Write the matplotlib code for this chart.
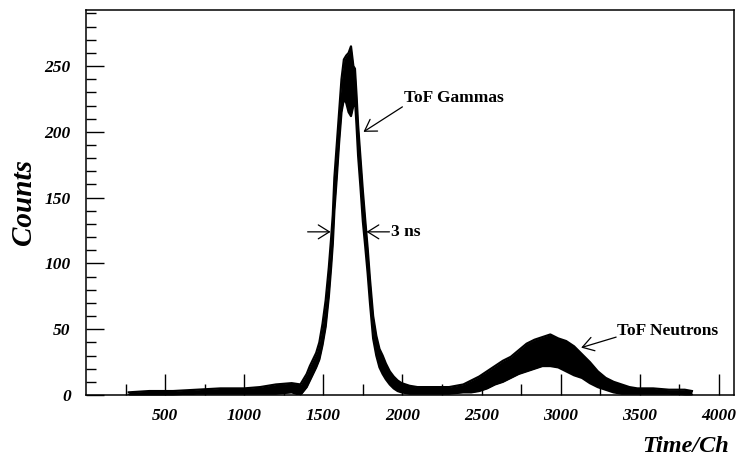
import matplotlib
matplotlib.use("Agg")
import matplotlib.pyplot as plt
from matplotlib.ticker import MultipleLocator, FixedLocator

channel = [270, 400, 550, 700, 850, 1000, 1100, 1200, 1300, 1355, 1375, 1395, 1415,
           1435, 1455, 1475, 1495, 1515, 1535, 1550, 1560, 1570, 1585, 1600, 1615,
           1630, 1645, 1660, 1675, 1690, 1700, 1710, 1720, 1735, 1750, 1765, 1780,
           1795, 1815, 1835, 1855, 1875, 1895, 1920, 1945, 1970, 1995, 2045, 2095,
           2195, 2295, 2385, 2435, 2485, 2535, 2585, 2635, 2685, 2735, 2785, 2835,
           2885, 2935, 2985, 3035, 3085, 3135, 3185, 3235, 3285, 3335, 3385, 3435,
           3485, 3585, 3685, 3785, 3830]
counts_lo = [0, 0, 0, 1, 1, 1, 1, 1, 2, 0, 3, 6, 11,
             16, 21, 27, 38, 52, 75, 98, 115, 140, 165, 192, 215,
             225, 222, 215, 212, 220, 225, 205, 182, 158, 132, 113, 93,
             70, 43, 30, 21, 16, 12, 8, 5, 3, 2, 1, 1,
             1, 1, 2, 2, 3, 5, 8, 10, 13, 16, 18, 20,
             22, 22, 21, 18, 15, 13, 9, 6, 4, 2, 1, 1,
             1, 1, 1, 0, 0]
counts_hi = [2, 3, 3, 4, 5, 5, 6, 8, 9, 8, 12, 16, 22,
             27, 32, 40, 54, 72, 97, 120, 137, 165, 190, 215, 240,
             255, 258, 260, 265, 250, 248, 228, 205, 180, 155, 133, 112,
             88, 60, 45, 35, 30, 24, 18, 14, 11, 9, 7, 6,
             6, 6, 8, 11, 14, 18, 22, 26, 29, 34, 39, 42,
             44, 46, 43, 41, 37, 31, 25, 18, 13, 10, 8, 6,
             5, 5, 4, 4, 3]

serif = "Liberation Serif"

fig = plt.figure(figsize=(7.37, 4.63), dpi=100)
ax = fig.add_axes([86 / 737, 68 / 463, 648 / 737, 385.5 / 463])

ax.fill_between(channel, counts_lo, counts_hi, color="black", lw=0)
ax.plot(channel, counts_lo, color="black", lw=1.6)
ax.plot(channel, counts_hi, color="black", lw=1.6)

ax.set_xlim(0, 4096)
ax.set_ylim(0, 293)

ax.xaxis.set_major_locator(FixedLocator([500, 1000, 1500, 2000, 2500, 3000, 3500, 4000]))
ax.xaxis.set_minor_locator(FixedLocator([250, 750, 1250, 1750, 2250, 2750, 3250, 3750]))
ax.yaxis.set_major_locator(MultipleLocator(50))
ax.yaxis.set_minor_locator(MultipleLocator(10))
ax.tick_params(axis="x", which="major", direction="in", length=15, width=1, pad=9)
ax.tick_params(axis="x", which="minor", direction="in", length=8, width=1)
ax.tick_params(axis="y", which="major", direction="in", length=13, width=1, pad=11)
ax.tick_params(axis="y", which="minor", direction="in", length=7, width=1)
for lab in ax.get_xticklabels() + ax.get_yticklabels():
    lab.set_family(serif)
    lab.set_weight("bold")
    lab.set_style("italic")
    lab.set_fontsize(12.5)
for sp in ax.spines.values():
    sp.set_linewidth(1.1)

fig.text(24 / 737, 1 - 202 / 463, "Counts", rotation=90, ha="center", va="center",
         family=serif, weight="bold", style="italic", fontsize=21)
fig.text(729 / 737, 1 - 446 / 463, "Time/Ch", ha="right", va="center",
         family=serif, weight="bold", style="italic", fontsize=17.5)

arrow = dict(arrowstyle="->,head_length=0.8,head_width=0.5", color="black",
             lw=0.9, mutation_scale=10, shrinkA=0, shrinkB=0)
txt = dict(family=serif, weight="bold", fontsize=12.5, va="center", ha="left")

ax.annotate("", xy=(1754, 200), xytext=(2000, 219), arrowprops=arrow)
ax.text(2013, 226, "ToF Gammas", **txt)

ax.annotate("", xy=(1546, 124), xytext=(1401, 124), arrowprops=arrow)
ax.annotate("", xy=(1773, 124), xytext=(1918, 124), arrowprops=arrow)
ax.text(1925, 124, "3 ns", **txt)

ax.annotate("", xy=(3130, 36), xytext=(3351, 44), arrowprops=arrow)
ax.text(3357, 49, "ToF Neutrons", **txt)

fig.savefig("out.png", dpi=100)
